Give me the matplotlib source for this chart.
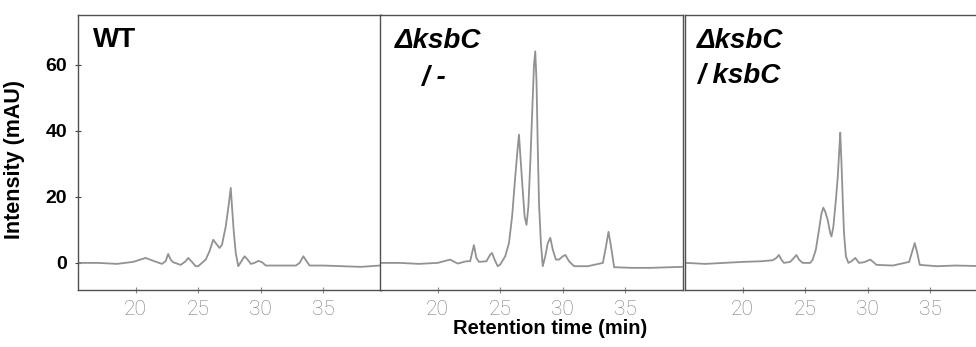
import numpy as np
import matplotlib
matplotlib.use('Agg')
import matplotlib.pyplot as plt

# retention time (min) / intensity (mAU)
wt_t = [15.5, 17, 18.5, 19.8, 20.8, 21.5, 22.1, 22.4, 22.6, 22.8, 23.0, 23.6, 24.0, 24.2,
        24.45, 24.8, 25.0, 25.6, 25.9, 26.2, 26.4, 26.7, 26.9, 27.2, 27.45, 27.6, 27.7,
        27.85, 28.0, 28.2, 28.45, 28.7, 28.95, 29.2, 29.5, 29.8, 30.1, 30.4, 31.5, 32.8,
        33.1, 33.4, 33.65, 33.9, 35, 36.5, 38, 39.5]
wt_i = [0, 0, -0.3, 0.3, 1.5, 0.5, -0.3, 0.5, 2.7, 1.0, 0.2, -0.6, 0.5, 1.5,
        0.5, -1.0, -1.0, 1, 3.5, 7, 6, 4.5, 5.5, 11, 18, 22.7, 17,
        9, 3, -1, 0.5, 2, 1, -0.3, 0, 0.6, 0.2, -0.8, -0.8, -0.8,
        0, 2, 0.5, -0.8, -0.8, -1, -1.2, -0.8]

ko_t = [15.5, 17, 18.5, 20, 21.0, 21.6, 22.3, 22.6, 22.9, 23.1, 23.3, 23.9, 24.2, 24.35,
        24.55, 24.8, 25.0, 25.4, 25.7, 25.95, 26.2, 26.4, 26.5, 26.6, 26.8, 26.95, 27.1,
        27.25, 27.4, 27.55, 27.7, 27.8, 27.9, 28.0, 28.1, 28.25, 28.4, 28.6, 28.8, 29.0,
        29.2, 29.45, 29.7, 30.0, 30.2, 30.5, 30.9, 32, 33.2, 33.45, 33.65, 33.85, 34.1,
        35.5, 37, 39.5]
ko_i = [0, 0, -0.3, 0, 1, -0.2, 0.5, 0.5, 5.4, 1.5, 0.3, 0.5, 2.5, 3,
        1, -1, -0.5, 2, 6, 14, 26, 35, 38.8, 33, 22, 14, 11.5,
        17, 30, 45, 60, 64, 55, 35, 18, 6, -1, 2, 6, 7.6,
        4, 1, 1, 2, 2.4, 0.5, -1, -1, 0, 5, 9.4, 5, -1.3,
        -1.5, -1.5, -1.2]

comp_t = [15.5, 17, 18.5, 20, 21.5, 22.4, 22.7, 22.9, 23.1, 23.3, 23.8, 24.1, 24.3, 24.5,
          24.8, 25.4, 25.6, 25.85, 26.1, 26.3, 26.45, 26.6, 26.8, 27.0, 27.1, 27.25, 27.45,
          27.6, 27.75, 27.8, 27.9, 28.0, 28.1, 28.25, 28.45, 28.7, 29.0, 29.3, 29.7, 30.2,
          30.7, 32, 33.3, 33.55, 33.75, 33.95, 34.15, 35.5, 37, 39.5]
comp_i = [0, -0.3, 0, 0.3, 0.5, 0.8, 1.5, 2.4, 1.0, 0, 0.3, 1.5, 2.4, 1.0,
          0, 0, 1, 4, 10, 15, 16.7, 15.5, 13, 9, 8, 11, 19,
          26, 36, 39.4, 30, 19, 9, 2, 0, 0.5, 1.5, 0, 0.2, 1,
          -0.6, -0.8, 0.3, 3.5, 6, 3, -0.6, -1, -0.8, -1]

x_ticks = [20, 25, 30, 35]
y_ticks = [0, 20, 40, 60]

traces = [(wt_t, wt_i), (ko_t, ko_i), (comp_t, comp_i)]
W, H = 976, 347
fig = plt.figure(figsize=(W / 100, H / 100), dpi=100)

lefts = [78, 380, 685]
pw = 303
bottom, top = 290, 15
axes = []
for k, (t, inten) in enumerate(traces):
    ax = fig.add_axes([lefts[k] / W, 1 - bottom / H, pw / W, (bottom - top) / H])
    ax.plot(t, inten, color='#929292', lw=1.3)
    ax.set_xlim(15.4, 39.6)
    ax.set_ylim(-8.2, 75)
    ax.set_xticks(x_ticks)
    ax.set_yticks(y_ticks)
    for s in ax.spines.values():
        s.set_color('#505050')
        s.set_linewidth(1.0)
    ax.tick_params(axis='x', direction='inout', length=4, color='#888888',
                   labelcolor='#7a7a7a', labelsize=15, pad=5)
    ax.tick_params(axis='y', direction='inout', length=4, color='#444444',
                   labelsize=14, pad=6)
    for lab in ax.get_xticklabels():
        lab.set_family(['Roboto', 'DejaVu Sans'])
        lab.set_fontweight('light')
    if k == 0:
        for lab in ax.get_yticklabels():
            lab.set_fontweight('bold')
            lab.set_family(['Liberation Sans', 'DejaVu Sans'])
        ax.set_ylabel('Intensity (mAU)', fontsize=15.5, fontweight='bold',
                      family=['Liberation Sans', 'DejaVu Sans'])
        ax.yaxis.set_label_coords(-0.175, 0.476)
    else:
        ax.tick_params(axis='y', labelleft=False, length=0)
    axes.append(ax)

lab_font = dict(fontsize=20, fontweight='bold', family=['Liberation Sans', 'DejaVu Sans'],
                va='baseline', ha='left')
fig.text(93 / W, 1 - 47 / H, 'WT', **lab_font)
fig.text(395 / W, 1 - 48 / H, 'ΔksbC', style='italic', **lab_font)
fig.text(421 / W, 1 - 85 / H, '/ -', style='italic', **lab_font)
fig.text(697 / W, 1 - 48 / H, 'ΔksbC', style='italic', **lab_font)
fig.text(697 / W, 1 - 83 / H, '/ ksbC', style='italic', **lab_font)

fig.text(550 / W, 1 - 328 / H, 'Retention time (min)', ha='center', va='center',
         fontsize=14.5, fontweight='bold', family=['Liberation Sans', 'DejaVu Sans'])

fig.savefig('out.png', dpi=100)
